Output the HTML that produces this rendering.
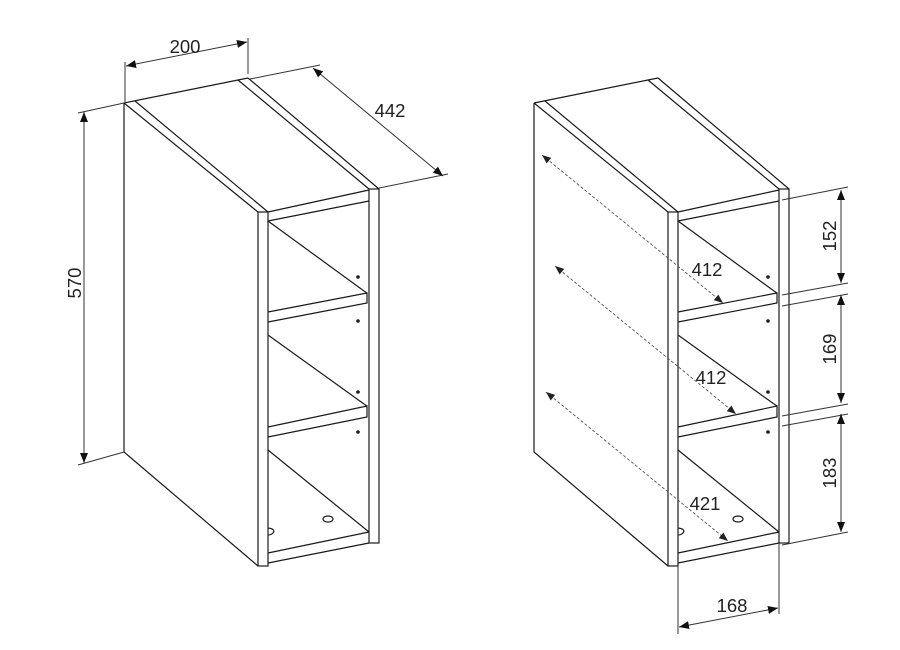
<!DOCTYPE html>
<html><head><meta charset="utf-8"><style>
html,body{margin:0;padding:0;background:#fff}
svg{display:block}
text{font-family:"Liberation Sans",sans-serif;font-size:18.5px;fill:#222}
</style></head><body>
<svg width="900" height="650" viewBox="0 0 900 650" xmlns="http://www.w3.org/2000/svg">
<defs>
<marker id="a" viewBox="0 0 10 10" refX="10" refY="5" markerWidth="10" markerHeight="10" markerUnits="userSpaceOnUse" orient="auto-start-reverse"><path d="M0,1 L10,5 L0,9 z" fill="#111"/></marker>
<marker id="b" viewBox="0 0 10 10" refX="10" refY="5" markerWidth="9" markerHeight="9" markerUnits="userSpaceOnUse" orient="auto-start-reverse"><path d="M0,1 L10,5 L0,9 z" fill="#222"/></marker>
<g id="cab" fill="none" stroke="#1a1a1a" stroke-width="1.2">
<path d="M124,103 L124,452 L258,566"/>
<path d="M124,103 L238,80 L248,78"/>
<path d="M124,103 L258,212 M135,101 L268,212"/>
<path d="M238,80 L369,189 M248,78 L379,189"/>
<rect x="258" y="212" width="10" height="354"/>
<rect x="369" y="189" width="10" height="354"/>
<path d="M268,212 L369,190 M268,221 L369,201"/>
<path d="M268,221 L364,291"/>
<path d="M268,312 L367,293 L367,303 L268,322 M364,291 L367,293"/>
<path d="M268,335 L364,404"/>
<path d="M268,427 L367,406 L367,417 L268,437 M364,404 L367,406"/>
<path d="M268,450 L369,532"/>
<path d="M268,553 L369,532 M268,563 L369,543"/>
<ellipse cx="328" cy="519" rx="5" ry="3"/>
<path d="M268,528 Q276,529 273,533 Q271,535 268,535"/>
<circle cx="358" cy="277" r="1.2" fill="#222"/>
<circle cx="358" cy="321" r="1.2" fill="#222"/>
<circle cx="358" cy="392" r="1.2" fill="#222"/>
<circle cx="358" cy="432" r="1.2" fill="#222"/>
</g>
</defs>
<use href="#cab"/>
<use href="#cab" transform="translate(410,0)"/>
<g fill="none" stroke="#333" stroke-width="1">
<path d="M125,62 L125,102 M248,38 L248,74"/>
<path d="M126,66 L247,42" marker-start="url(#a)" marker-end="url(#a)"/>
<path d="M250,79 L320,65 M379,188 L448,174"/>
<path d="M313,68 L443,176" marker-start="url(#a)" marker-end="url(#a)"/>
<path d="M78,113 L124,103 M78,465 L124,452"/>
<path d="M84,112 L84,463" marker-start="url(#a)" marker-end="url(#a)"/>
<path d="M782,200 L848,187 M782,295 L848,283 M782,306 L848,294 M782,416 L848,404 M782,426 L848,414 M782,545 L848,532"/>
<path d="M841,190 L841,283" marker-start="url(#a)" marker-end="url(#a)"/>
<path d="M841,295 L841,403" marker-start="url(#a)" marker-end="url(#a)"/>
<path d="M841,414 L841,532" marker-start="url(#a)" marker-end="url(#a)"/>
<path d="M678,566 L678,634 M779,543 L779,614"/>
<path d="M679,627 L778,608" marker-start="url(#a)" marker-end="url(#a)"/>
<g stroke-dasharray="3,2" stroke="#444" stroke-width="0.8">
<path d="M542,155 L723,303" marker-start="url(#b)" marker-end="url(#b)"/>
<path d="M555,266 L736,414" marker-start="url(#b)" marker-end="url(#b)"/>
<path d="M546,392 L728,541" marker-start="url(#b)" marker-end="url(#b)"/>
</g>
</g>
<text x="185" y="53" text-anchor="middle">200</text>
<text x="390" y="117" text-anchor="middle">442</text>
<text x="0" y="0" text-anchor="middle" transform="translate(81,283) rotate(-90)">570</text>
<text x="707" y="276" text-anchor="middle">412</text>
<text x="711" y="384" text-anchor="middle">412</text>
<text x="705" y="510" text-anchor="middle">421</text>
<text x="732" y="612" text-anchor="middle">168</text>
<text x="0" y="0" text-anchor="middle" transform="translate(836,236) rotate(-90)">152</text>
<text x="0" y="0" text-anchor="middle" transform="translate(836,349) rotate(-90)">169</text>
<text x="0" y="0" text-anchor="middle" transform="translate(836,473) rotate(-90)">183</text>
</svg>
</body></html>
